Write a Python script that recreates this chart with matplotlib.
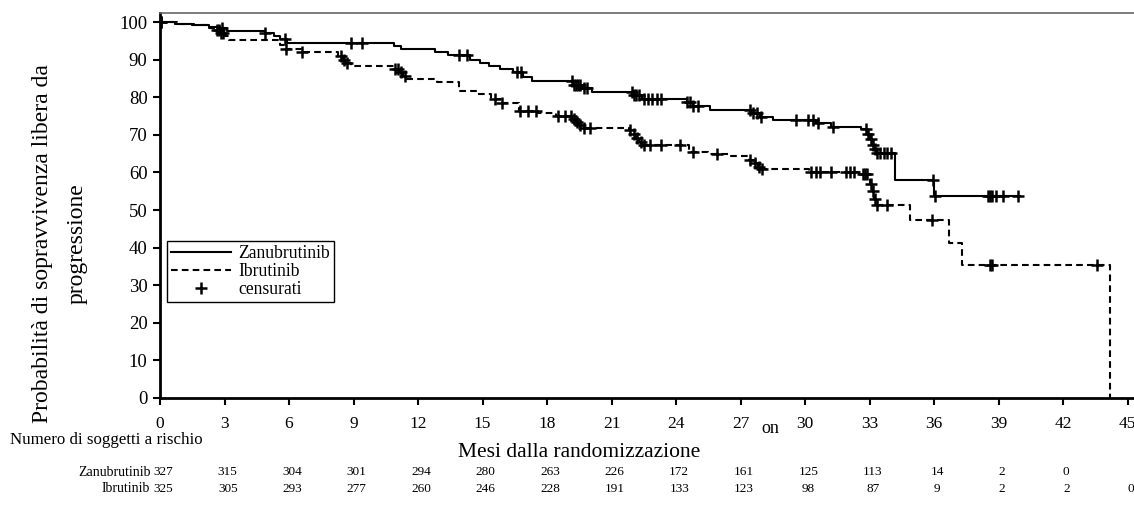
import numpy as np
import matplotlib.pyplot as plt
from matplotlib.lines import Line2D
from matplotlib.transforms import blended_transform_factory

plt.rcParams['font.family'] = ['Liberation Serif', 'DejaVu Serif']

# Kaplan-Meier steps (months, % PFS after the step)
zanu_t = [0, 0.7, 1.5, 2.3, 2.8, 3.1, 4.9, 5.3, 5.6, 5.9, 10.9, 11.2, 12.8, 13.4,
          14.4, 14.9, 15.3, 15.8, 16.4, 16.9, 17.3, 19.2, 19.6, 20.1, 22.0, 22.4,
          24.5, 24.8, 25.6, 27.5, 27.9, 28.5, 30.5, 31.2, 32.6, 32.9, 33.0, 33.1,
          33.2, 33.3, 34.2, 36.0, 40.0]
zanu_s = [100, 99.6, 99.2, 98.8, 98.3, 97.6, 97.0, 96.2, 95.4, 94.4, 93.5, 92.7, 92.0, 91.3,
          90.0, 89.0, 88.2, 87.6, 86.8, 85.4, 84.2, 83.2, 82.4, 81.3, 80.6, 79.6,
          78.6, 77.6, 76.7, 75.8, 74.8, 73.9, 73.1, 72.2, 71.6, 70.2, 68.8, 67.4,
          66.2, 65.2, 58.0, 53.6, 53.6]
zanu_cens = [0.05, 2.9, 4.9, 5.8, 8.9, 9.4, 13.9, 14.3, 16.6, 16.8,
             19.15, 19.25, 19.35, 19.45, 19.55, 19.7, 19.85,
             21.95, 22.05, 22.15, 22.3, 22.5, 22.7, 22.9, 23.1, 23.3,
             24.5, 24.65, 24.8, 25.0, 27.45, 27.6, 27.75, 27.95,
             29.6, 30.15, 30.35, 30.6, 31.3,
             32.85, 32.95, 33.05, 33.15, 33.25, 33.35, 33.5, 33.65, 33.8, 34.0,
             35.95, 36.05, 38.5, 38.6, 38.7, 38.9, 39.2, 39.9]

ibru_t = [0, 0.8, 1.6, 2.3, 2.6, 2.8, 3.0, 3.2, 5.6, 5.8, 6.6, 8.3, 8.5, 8.7, 8.9,
          10.9, 11.1, 11.3, 11.5, 12.9, 13.9, 14.8, 15.4, 15.9, 16.7, 17.6, 18.4,
          19.2, 19.35, 19.5, 19.65, 21.8, 22.0, 22.15, 22.3, 22.45, 24.6, 25.5, 26.5,
          27.4, 27.6, 27.8, 28.0, 30.2, 32.5, 33.0, 33.1, 33.2, 33.3, 34.9, 36.7,
          37.3, 44.2]
ibru_s = [100, 99.6, 99.1, 98.5, 97.8, 97.0, 96.2, 95.2, 94.0, 92.7, 92.1, 91.0, 90.0, 89.0, 88.2,
          87.5, 86.6, 85.6, 84.8, 84.1, 81.6, 80.8, 79.6, 78.4, 76.3, 75.7, 74.9,
          74.2, 73.4, 72.6, 71.8, 71.2, 70.2, 69.2, 68.2, 67.2, 65.5, 64.8, 64.3,
          63.4, 62.4, 61.4, 60.8, 60.2, 59.6, 57.0, 55.0, 53.0, 51.3, 47.3, 41.1,
          35.4, 0]
ibru_cens = [0.05, 2.65, 2.75, 2.85, 2.95, 5.85, 6.6, 8.4, 8.55, 8.7,
             10.95, 11.05, 11.2, 11.4, 15.6, 15.9, 16.75, 17.1, 17.5, 18.5, 18.85, 19.1,
             19.25, 19.4, 19.55, 19.7, 20.0, 21.85, 22.05, 22.2, 22.35, 22.5, 22.8, 23.3,
             24.2, 24.8, 25.9, 27.45, 27.65, 27.85, 28.0, 30.3, 30.5, 30.7, 31.2,
             31.9, 32.1, 32.3, 32.7, 32.8, 32.9, 33.05, 33.15, 33.25, 33.35, 33.8,
             35.9, 38.6, 38.7, 43.6]

# number at risk table
risk_months = [0, 3, 6, 9, 12, 15, 18, 21, 24, 27, 30, 33, 36, 39, 42, 45]
zanu_risk = [327, 315, 304, 301, 294, 280, 263, 226, 172, 161, 125, 113, 14, 2, 0]
ibru_risk = [325, 305, 293, 277, 260, 246, 228, 191, 133, 123, 98, 87, 9, 2, 2, 0]


def surv_at(times, surv, t):
    idx = np.searchsorted(times, t, side='right') - 1
    return np.asarray(surv)[idx]


fig = plt.figure(figsize=(11.34, 5.24), dpi=100)
ax = fig.add_axes([160 / 1134, 1 - 398 / 524, 974 / 1134, 385 / 524])

ax.step(zanu_t, zanu_s, where='post', color='black', lw=1.5)
ax.step(ibru_t, ibru_s, where='post', color='black', lw=1.5, linestyle=(0, (3.2, 2)))

ax.plot(zanu_cens, surv_at(zanu_t, zanu_s, zanu_cens), linestyle='none',
        marker='+', ms=8, mew=1.8, color='black')
ax.plot(ibru_cens, surv_at(ibru_t, ibru_s, ibru_cens), linestyle='none',
        marker='+', ms=8, mew=1.8, color='black')

ax.set_xlim(0, 45.3)
ax.set_ylim(0, 102.4)
ax.set_xticks(np.arange(0, 46, 3))
ax.set_yticks(np.arange(0, 101, 10))
ax.tick_params(axis='both', direction='out', length=5, width=1.5, color='black')
ax.tick_params(axis='x', labelsize=12.5, pad=8)
ax.tick_params(axis='y', labelsize=13.5, pad=4)

ax.spines['right'].set_visible(False)
ax.spines['top'].set_color('#666666')
ax.spines['top'].set_linewidth(1.2)
ax.spines['left'].set_linewidth(2)
ax.spines['bottom'].set_linewidth(2)

handles = [Line2D([], [], color='black', lw=1.5),
           Line2D([], [], color='black', lw=1.5, linestyle=(0, (3.2, 2))),
           Line2D([], [], color='black', linestyle='none', marker='+', ms=8, mew=1.8)]
leg = ax.legend(handles, ['Zanubrutinib', 'Ibrutinib', 'censurati'],
                loc='lower left', bbox_to_anchor=(0.007, 0.249), fontsize=12.7,
                frameon=True, fancybox=False, edgecolor='black', framealpha=1,
                handlelength=3.4, handletextpad=0.4, borderpad=0.25,
                labelspacing=0.05, borderaxespad=0)
leg.get_frame().set_linewidth(1.0)

fig.text(0.053, 0.536, 'Probabilità di sopravvivenza libera da\nprogressione',
         rotation=90, ha='center', va='center', multialignment='center',
         fontsize=17, linespacing=1.85)

fig.text(0.511, 0.137, 'Mesi dalla randomizzazione', ha='center', va='center', fontsize=15.5)
fig.text(0.679, 0.183, 'on', ha='center', va='center', fontsize=13)
fig.text(0.009, 0.160, 'Numero di soggetti a rischio', ha='left', va='center', fontsize=12.2)

# risk table below the axis
trans = blended_transform_factory(ax.transData, fig.transFigure)
row_y = [1 - 472 / 524, 1 - 489 / 524]
for y, name, counts in [(row_y[0], 'Zanubrutinib', zanu_risk),
                        (row_y[1], 'Ibrutinib', ibru_risk)]:
    ax.text(-0.45, y, name, transform=trans, ha='right', va='center',
            fontsize=10, clip_on=False)
    for m, n in zip(risk_months, counts):
        ax.text(m + 0.15, y, str(n), transform=trans, ha='center', va='center',
                fontsize=9.5, clip_on=False)

fig.savefig('out.png', dpi=100)
